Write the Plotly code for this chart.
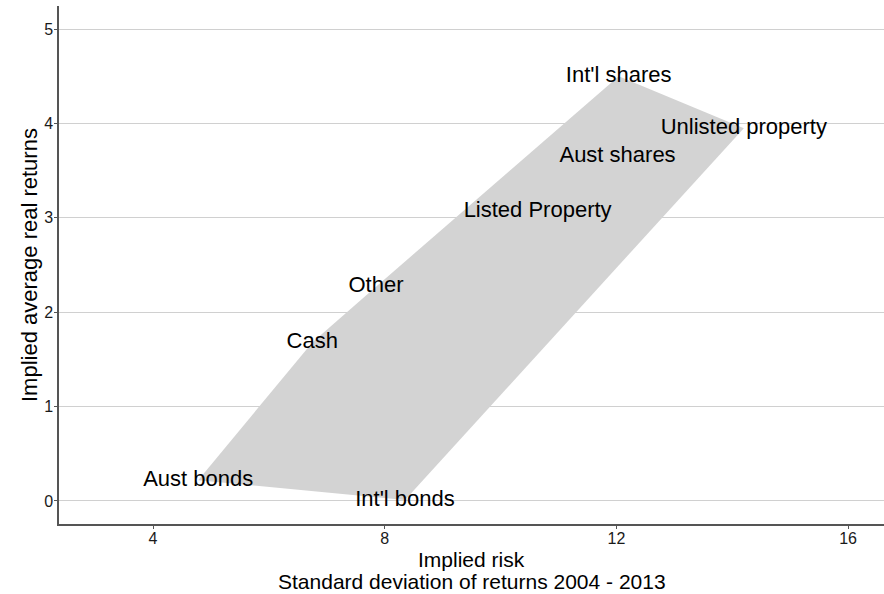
import plotly.graph_objects as go

# ---- data ----
assets = ["Aust bonds", "Int'l bonds", "Cash", "Other", "Listed Property",
          "Aust shares", "Int'l shares", "Unlisted property"]
risk = [4.78, 8.35, 6.75, 7.85, 10.64, 12.02, 12.04, 14.20]
returns = [0.22, 0.01, 1.68, 2.27, 3.07, 3.65, 4.50, 3.95]

x_ticks = [4, 8, 12, 16]
y_ticks = [0, 1, 2, 3, 4, 5]


def convex_hull(pts):
    pts = sorted(set(pts))
    if len(pts) <= 2:
        return pts

    def cross(o, a, b):
        return (a[0] - o[0]) * (b[1] - o[1]) - (a[1] - o[1]) * (b[0] - o[0])

    lower, upper = [], []
    for p in pts:
        while len(lower) >= 2 and cross(lower[-2], lower[-1], p) <= 0:
            lower.pop()
        lower.append(p)
    for p in reversed(pts):
        while len(upper) >= 2 and cross(upper[-2], upper[-1], p) <= 0:
            upper.pop()
        upper.append(p)
    return lower[:-1] + upper[:-1]


hull = convex_hull(list(zip(risk, returns)))
hx = [p[0] for p in hull] + [hull[0][0]]
hy = [p[1] for p in hull] + [hull[0][1]]

FONT = "Liberation Sans, Arial, sans-serif"

fig = go.Figure()
fig.add_trace(go.Scatter(
    x=hx, y=hy, mode="lines", fill="toself",
    fillcolor="#D3D3D3", line=dict(width=0, color="#D3D3D3"),
    hoverinfo="skip", showlegend=False,
))
fig.add_trace(go.Scatter(
    x=risk, y=returns, mode="text", text=assets,
    textposition="middle center",
    textfont=dict(family=FONT, size=22, color="#000000"),
    showlegend=False,
))

fig.update_layout(
    width=884, height=594,
    margin=dict(l=59, r=0, t=6, b=70),
    paper_bgcolor="white", plot_bgcolor="white",
    font=dict(family=FONT, color="#000000"),
    xaxis=dict(
        range=[2.377, 16.62], tickvals=x_ticks, ticktext=[str(v) for v in x_ticks],
        showgrid=False, zeroline=False,
        showline=True, linecolor="#555555", linewidth=1.5,
        ticks="outside", ticklen=3, tickcolor="#555555", tickwidth=1,
        ticklabelstandoff=-4,
        tickfont=dict(family=FONT, size=16, color="#1a1a1a"),
    ),
    yaxis=dict(
        range=[-0.244, 5.244], tickvals=y_ticks, ticktext=[str(v) for v in y_ticks],
        showgrid=True, gridcolor="#D0D0D0", gridwidth=1, zeroline=False,
        showline=True, linecolor="#555555", linewidth=1.5,
        ticks="outside", ticklen=3, tickcolor="#555555", tickwidth=1,
        ticklabelstandoff=-2,
        tickfont=dict(family=FONT, size=16, color="#1a1a1a"),
    ),
    annotations=[
        dict(text="Implied risk", xref="paper", yref="paper", x=0.5, y=0,
             xanchor="center", yanchor="middle", yshift=-35, showarrow=False,
             font=dict(family=FONT, size=21, color="#000000")),
        dict(text="Standard deviation of returns 2004 - 2013", xref="paper", yref="paper",
             x=0.5, y=0, xanchor="center", yanchor="middle", yshift=-57, showarrow=False,
             font=dict(family=FONT, size=21, color="#000000")),
        dict(text="Implied average real returns", xref="paper", yref="paper",
             x=0, y=0.5, xanchor="center", yanchor="middle", xshift=-30,
             textangle=-90, showarrow=False,
             font=dict(family=FONT, size=22, color="#000000")),
    ],
)

fig.write_html("out.html", config={"displayModeBar": False},
               post_script="document.body.style.margin='0px';")
